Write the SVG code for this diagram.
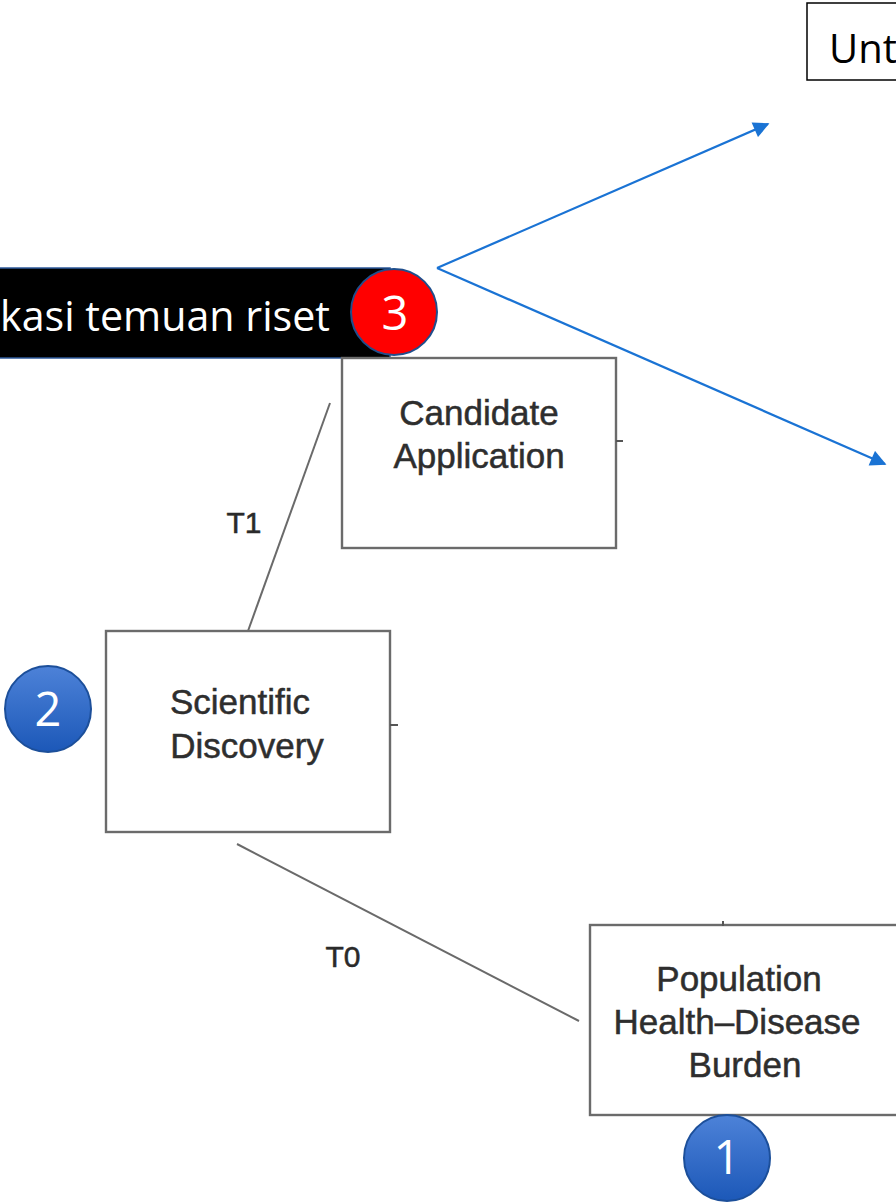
<svg xmlns="http://www.w3.org/2000/svg" width="896" height="1202" viewBox="0 0 896 1202">
  <defs>
    <linearGradient id="badgeBlue" x1="0" y1="0" x2="0" y2="1">
      <stop offset="0" stop-color="#4d82d8"/>
      <stop offset="1" stop-color="#1c58b8"/>
    </linearGradient>
    <marker id="arrowBlue" viewBox="0 0 10 10" refX="9" refY="5" markerWidth="18" markerHeight="16" markerUnits="userSpaceOnUse" orient="auto">
      <path d="M0,0 L10,5 L0,10 z" fill="#1a73d4"/>
    </marker>
  </defs>
  <style>
    .box { fill: #ffffff; stroke: #6b6b6b; stroke-width: 2.4; }
    .boxText { font-family: "Liberation Sans", Arial, sans-serif; font-size: 35px; fill: #2e2e2e; stroke: #2e2e2e; stroke-width: 0.5; text-anchor: middle; }
    .link { stroke: #6a6a6a; stroke-width: 2; fill: none; }
    .linkLabel { font-family: "Liberation Sans", Arial, sans-serif; font-size: 30px; fill: #2a2a2a; stroke: #2a2a2a; stroke-width: 0.5; text-anchor: middle; }
    .tick { stroke: #555555; stroke-width: 2; }
    .badgeText { font-family: "Open Sans", "Noto Sans", sans-serif; font-size: 47px; fill: #ffffff; text-anchor: middle; }
    .blueArrow { stroke: #1a73d4; stroke-width: 2.2; fill: none; }
  </style>

  <rect width="896" height="1202" fill="#ffffff"/>

  <!-- connectors -->
  <g id="connectors">
    <line class="link" x1="330" y1="403" x2="248" y2="631"/>
    <line class="link" x1="237" y1="844" x2="579" y2="1021"/>
    <line class="blueArrow" x1="437" y1="268" x2="768" y2="124" marker-end="url(#arrowBlue)"/>
    <line class="blueArrow" x1="437" y1="268" x2="885" y2="464" marker-end="url(#arrowBlue)"/>
    <text class="linkLabel" x="244" y="533">T1</text>
    <text class="linkLabel" x="343" y="967">T0</text>
  </g>

  <!-- top-right caption box (cut at the edge) -->
  <g id="node-unt">
    <rect x="807" y="3" width="100" height="77" fill="#ffffff" stroke="#000000" stroke-width="1.5"/>
    <text x="829" y="63" font-family="Open Sans, Noto Sans, sans-serif" font-size="40" fill="#000000">Unt</text>
  </g>

  <!-- black banner with badge 3 -->
  <g id="node-banner">
    <rect x="-10" y="268" width="400" height="90" fill="#000000" stroke="#2e5a9a" stroke-width="1.5"/>
    <text x="0" y="331" font-family="Open Sans, Noto Sans, sans-serif" font-size="42" fill="#ffffff" textLength="330" lengthAdjust="spacingAndGlyphs">kasi temuan riset</text>
  </g>
  <g id="badge-3">
    <circle cx="394" cy="312" r="43" fill="#ff0000" stroke="#1f4e8c" stroke-width="2"/>
    <text class="badgeText" x="395" y="330">3</text>
  </g>

  <!-- Candidate Application -->
  <g id="node-candidate">
    <rect class="box" x="342" y="358" width="274" height="190"/>
    <line class="tick" x1="616" y1="441" x2="623" y2="441"/>
    <text class="boxText" x="479" y="425">Candidate</text>
    <text class="boxText" x="479" y="468">Application</text>
  </g>

  <!-- Scientific Discovery -->
  <g id="node-scientific">
    <rect class="box" x="106" y="631" width="284" height="201"/>
    <line class="tick" x1="390" y1="725" x2="398" y2="725"/>
    <text class="boxText" x="240" y="714">Scientific</text>
    <text class="boxText" x="247" y="758">Discovery</text>
  </g>
  <g id="badge-2">
    <circle cx="48" cy="709" r="43" fill="url(#badgeBlue)" stroke="#1c4f9a" stroke-width="2"/>
    <text class="badgeText" x="48" y="726">2</text>
  </g>

  <!-- Population Health-Disease Burden -->
  <g id="node-population">
    <rect class="box" x="590" y="925" width="320" height="190"/>
    <line class="tick" x1="723" y1="921" x2="723" y2="926"/>
    <text class="boxText" x="739" y="991">Population</text>
    <text class="boxText" x="737" y="1034">Health–Disease</text>
    <text class="boxText" x="745" y="1077">Burden</text>
  </g>
  <g id="badge-1">
    <circle cx="727" cy="1158" r="43" fill="url(#badgeBlue)" stroke="#1c4f9a" stroke-width="2"/>
    <text class="badgeText" x="727" y="1174">1</text>
  </g>
</svg>
